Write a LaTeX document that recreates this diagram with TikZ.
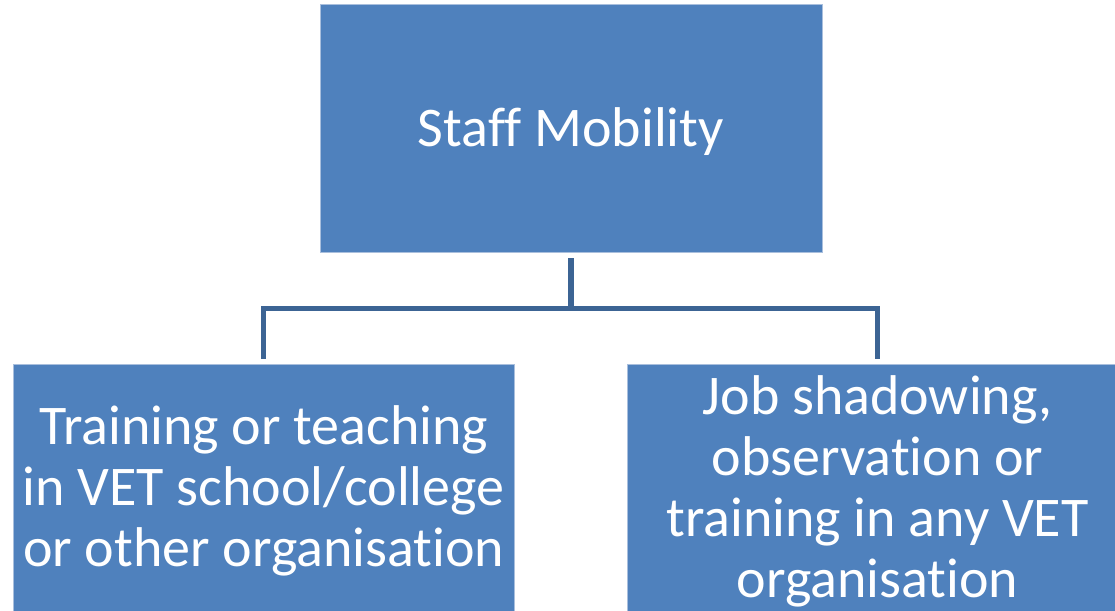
\documentclass[tikz,border=0pt]{standalone}
\usepackage{fontspec}
\setmainfont{Carlito}[Ligatures=CommonOff]
\definecolor{boxblue}{HTML}{4F81BD}
\definecolor{boxedge}{HTML}{A9BFDD}
\definecolor{linkblue}{HTML}{3C6494}
\newcommand{\toppad}{\rule{0pt}{34pt}}
\tikzset{
  box/.style={rectangle, fill=boxblue, draw=boxedge, line width=0.5pt, inner sep=0pt, outer sep=0pt,
    text=white, align=center, minimum height=186pt},
  boxfont/.style={font=\fontsize{42pt}{45.75pt}\selectfont},
  conn/.style={draw=linkblue, line width=4pt, line join=miter}
}
\begin{document}
\begin{tikzpicture}[x=0.75pt, y=-0.75pt]
\useasboundingbox (0,0) rectangle (1115,611);
\node[box, boxfont, minimum width=376.5pt] (top) at (571,128) {\toppad Staff Mobility};
\node[box, boxfont, minimum width=376pt] (left) at (263.75,488) {\toppad Training or teaching\\in VET school/college\\or other organisation};
\node[box, boxfont, minimum width=376pt] (right) at (877.5,488) {\toppad Job shadowing,\\observation or\\training in any VET\\organisation};
\coordinate (bar) at (571,308.5);
\draw[conn, shorten <=4.5pt] (top.south) -- (bar);
\draw[conn, shorten <=4pt, shorten >=4pt] (left.north) |- (bar) -| (right.north);
\end{tikzpicture}
\end{document}
